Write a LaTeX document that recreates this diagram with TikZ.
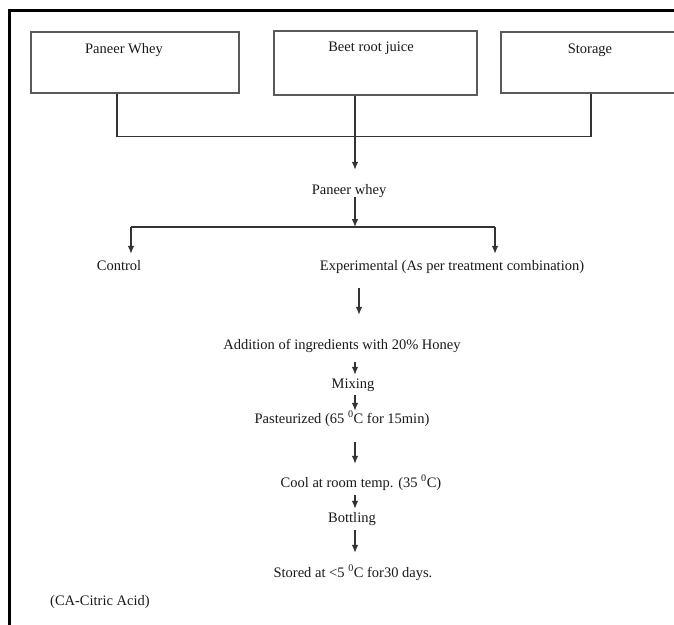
\documentclass[tikz,border=0pt]{standalone}
\usepackage{fontspec}
\setmainfont{Liberation Serif}
\usepackage{tikz}
\usetikzlibrary{arrows.meta,positioning}

\begin{document}
\begin{tikzpicture}[
  x=1pt, y=-1pt,
  every node/.style={font=\fontsize{14.5}{17}\selectfont, text=black!90, inner sep=0pt, text height=10pt, text depth=3pt},
  stage/.style={anchor=base},
  box/.style={rectangle, draw=black!65, line width=1.2pt},
  link/.style={draw=black!80, line width=1.1pt},
  arrow/.style={link, -{Latex[length=8pt, width=6.5pt]}}
]

\clip (0,0) rectangle (674,624);
\fill[white] (0,0) rectangle (674,624);

% outer frame
\draw[line width=2.5pt] (9.5,630) -- (9.5,10.5) -- (680,10.5);

\coordinate (col) at (355,0);

% source boxes
\node[box, minimum width=208pt, minimum height=61pt] (whey) at (135,62.5) {};
\node[box, minimum width=203pt, minimum height=64pt] (beet) at (375.5,63) {};
\node[box, minimum width=208pt, minimum height=61pt] (store) at (605,62.5) {};

\node[stage] (wheyt) at (124,53) {Paneer Whey};
\node[stage] (beett) at (371,51) {Beet root juice};
\node[stage] (storet) at (590,53) {Storage};

% process steps
\node[stage] (pwhey) at (349,194) {Paneer whey};
\node[stage] (ctrl) at (119,270) {Control};
\node[stage] (expt) at (452,270) {Experimental (As per treatment combination)};
\node[stage] (addn) at (342,349) {Addition of ingredients with 20\% Honey};
\node[stage] (mix) at (353,388) {Mixing};
\node[stage] (past) at (342,423) {Pasteurized (65 \textsuperscript{0}C for 15min)};
\node[stage] (cool) at (361,487) {Cool at room temp. (35 \textsuperscript{0}C)};
\node[stage] (bottl) at (352,522) {Bottling};
\node[stage] (stored) at (353,577) {Stored at <5 \textsuperscript{0}C for30 days.};
\node[anchor=base west] (note) at (50,605) {(CA-Citric Acid)};

% joining the boxes
\draw[link] ([xshift=-18pt]whey.south) -- ++(0,43) -| ([xshift=-14pt]store.south);
\draw[arrow, shorten >=14pt] (beet.south -| col) -- (pwhey.north -| col);

% split into control and experimental
\coordinate (split) at (355,227);
\coordinate (splitl) at (131,227);
\coordinate (splitr) at (495,227);
\draw[arrow] (pwhey.south -| col) -- (split);
\draw[link] (splitl) -- (splitr);
\draw[arrow, shorten >=6pt] (splitl) -- (splitl |- ctrl.north);
\draw[arrow, shorten >=6pt] (splitr) -- (splitr |- expt.north);

% main line
\draw[arrow, shorten <=15pt, shorten >=24pt] ([xshift=4pt]expt.south -| col) -- ([xshift=4pt]addn.north -| col);
\draw[arrow, shorten <=10pt, shorten >=3pt] (addn.south -| col) -- (mix.north -| col);
\draw[arrow, shorten <=4pt, shorten >=2pt] (mix.south -| col) -- (past.north -| col);
\draw[arrow, shorten <=16pt, shorten >=13pt] (past.south -| col) -- (cool.north -| col);
\draw[arrow, shorten <=5pt, shorten >=3pt] (cool.south -| col) -- (bottl.north -| col);
\draw[arrow, shorten <=5pt, shorten >=14pt] (bottl.south -| col) -- (stored.north -| col);

\end{tikzpicture}
\end{document}
